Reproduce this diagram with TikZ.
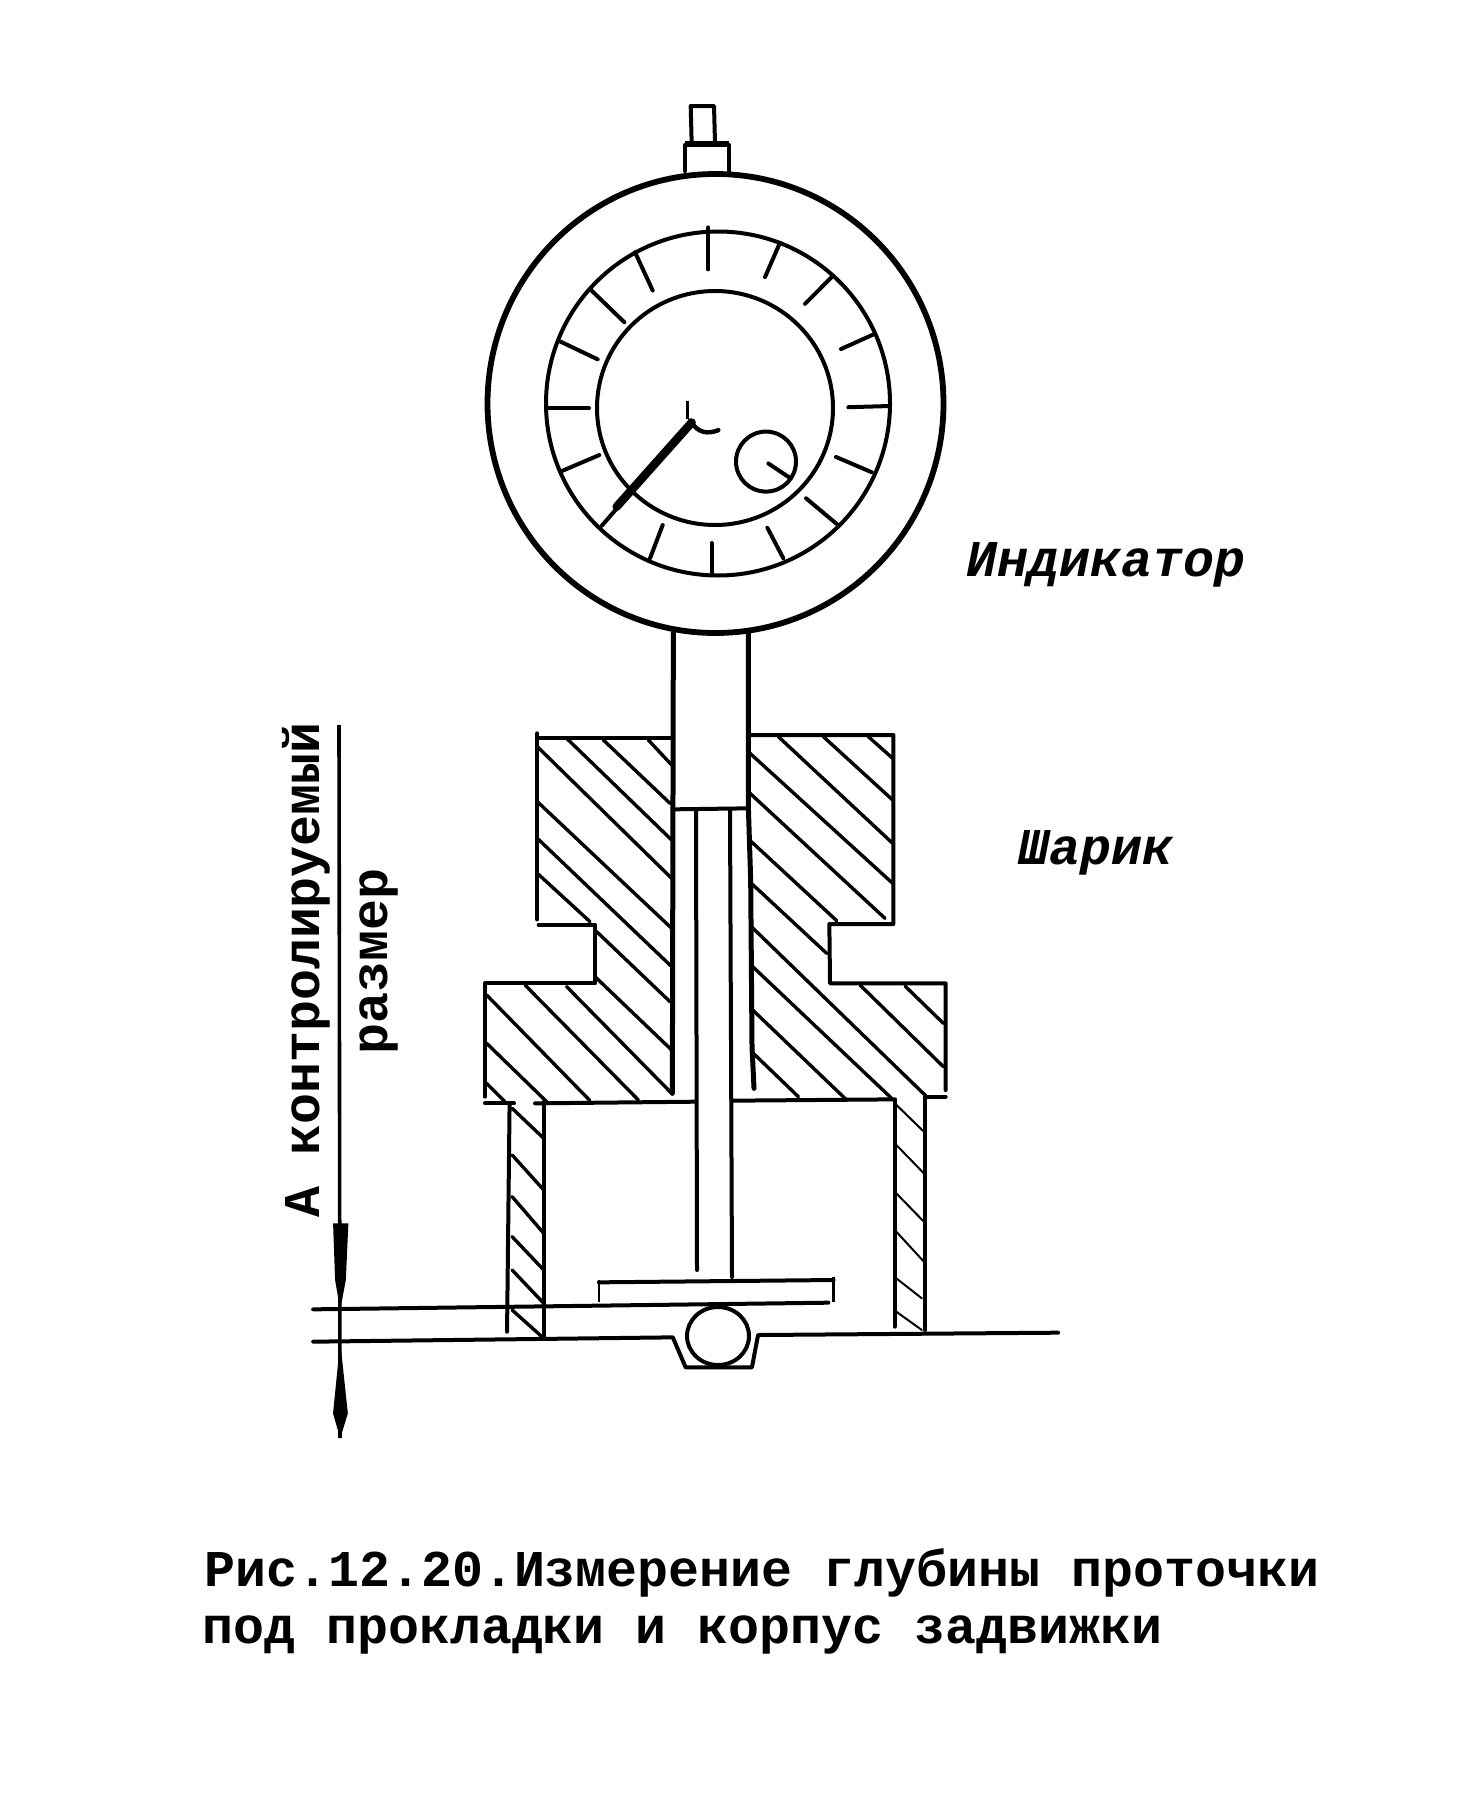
\documentclass[tikz,border=0pt]{standalone}
\usepackage{fontspec}
\setmonofont{Liberation Mono}
\tikzset{
  thickline/.style={line width=2.5pt,line cap=round,line join=round},
  midline/.style={line width=2pt,line cap=round,line join=round},
  hatchline/.style={line width=1.7pt,line cap=round},
  thinhatch/.style={line width=1pt,line cap=round},
  label/.style={inner sep=0pt,font=\fontsize{25.8pt}{30pt}\selectfont\ttfamily\bfseries},
  labelit/.style={inner sep=0pt,font=\fontsize{25.8pt}{30pt}\selectfont\ttfamily\bfseries\itshape},
}
\begin{document}
\begin{tikzpicture}[x=0.5pt,y=-0.5pt]
\fill[white] (0,0) rectangle (1458,1813);
\useasboundingbox (0,0) rectangle (1458,1813);
% dial
\draw[line width=2.9pt] (715.5,403.5) ellipse [x radius=228,y radius=229.5];
\draw[midline] (718,403.5) ellipse [x radius=172,y radius=172];
\draw[midline] (715,408) ellipse [x radius=118,y radius=117];
\draw[midline] (766,461.6) ellipse [x radius=30,y radius=30];
\begin{scope}[shift={(440,80)},x=0.16667pt,y=-0.19135pt]
 \draw[midline] (755,165)--(752,68)--(822,68)--(825,165);
 \draw[midline] (735,238)--(735,170)--(868,170)--(868,238);
 \draw[line width=1.8pt] (735,165)--(868,165);
 \foreach \a/\b/\c/\d in {805/385/805/495,1020/425/975/515,1175/515/1095/585,1300/665/1203/703,1345/852/1225/855,1295/1025/1188/985,1190/1160/1098/1093,1030/1250/982/1170,815/1290/815/1210,630/1250/668/1163,365/1022/478/980,325/858/447/858,360/683/473/730,452/548/553/633,585/450/638/550}
   \draw[midline] (\a,\b)--(\c,\d);
 \draw[midline] (485,1165)--(570,1080);
 \draw[line width=4.2pt,line cap=round] (530,1115)--(755,895);
 \draw[line width=1.6pt] (742,840)--(742,885);
 \draw[line width=2.2pt,line cap=round] (750,890) .. controls (775,925) and (805,925) .. (835,915);
 \draw[midline] (985,1002)--(1050,1040);
\end{scope}
% body, upper part
\begin{scope}[shift={(440,680)},x=0.16667pt,y=-0.16667pt]
 \draw[thickline] (700,-141)--(697,1240);
 \draw[thickline] (925,-141)--(925,380)--(932,600)--(936,1100)--(942,1225);
 \draw[midline] (700,388)--(925,385);
 \draw[midline] (292,160)--(292,718);
 \draw[midline] (292,173)--(695,173);
 \draw[midline] (296,734)--(465,734)--(465,910)--(135,910)--(135,1250);
 \draw[midline] (925,165)--(1360,165)--(1360,732)--(1168,732)--(1170,910)--(1517,910)--(1517,1230);
 \draw[midline] (135,1270)--(222,1270);
 \draw[midline] (285,1270)--(768,1265);
 \draw[midline] (875,1262)--(1365,1258);
 \draw[midline] (1455,1250)--(1517,1250);
 \foreach \a/\b/\c/\d in {380/175/695/480,490/180/690/370,625/180/695/255,292/200/695/595,292/365/695/745,292/475/695/860,292/580/450/725,470/755/690/965,465/890/695/1110,255/915/595/1260,380/920/695/1240,140/945/450/1262,140/1090/320/1265,140/1210/195/1265,1015/170/1358/490,1150/170/1358/360,1285/170/1358/235,930/220/1358/610,930/340/1335/715,934/485/1190/722,934/610/1160/820,934/740/1460/1250,938/860/1355/1255,938/990/1220/1260,940/1120/1075/1250,1260/915/1510/1160,1395/918/1510/1030}
   \draw[hatchline] (\a,\b)--(\c,\d);
\end{scope}
% tube
\draw[midline] (696,810)--(697,1270);
\draw[midline] (730,810)--(732,1277);
% lower part
\begin{scope}[shift={(280,1080)},x=0.2551pt,y=-0.16667pt]
 \draw[midline] (450,70)--(445,755);
 \draw[midline] (517,65)--(517,775);
 \draw[midline] (1205,60)--(1205,740);
 \draw[midline] (1265,50)--(1265,750);
 \foreach \a/\b/\c/\d in {455/85/517/175,455/225/517/330,455/350/517/460,455/470/517/570,455/570/517/670,455/690/517/775}
   \draw[hatchline] (\a,\b)--(\c,\d);
 \foreach \a/\b/\c/\d in {1205/70/1262/155,1208/195/1262/280,1208/340/1262/425,1208/455/1262/545,1208/595/1258/655,1208/695/1258/750}
   \draw[thinhatch] (\a,\b)--(\c,\d);
 \draw[midline] (625,607)--(1085,600);
 \draw[line width=1.1pt] (625,600)--(625,665);
 \draw[line width=1.1pt] (1085,590)--(1085,665);
 \draw[midline] (65,688)--(1075,668);
 \draw[midline] (65,785)--(770,772)--(795,862)--(925,862)--(937,765)--(1525,758);
 \fill (104,430)--(134,430)--(129,600)--(118,690)--(108,600)--cycle;
 \fill (118,785)--(104,1000)--(118,1075)--(133,1000)--cycle;
\end{scope}
\draw[midline] (718,1336) ellipse [x radius=31,y radius=29];
\draw[line width=1.8pt] (339,725)--(340,1438);
% texts
\node[labelit,anchor=base west] (ind) at (966,576) {Индикатор};
\node[labelit,anchor=base west] (shar) at (1018,864) {Шарик};
\node[label,anchor=base west,rotate=90] (kontr) at (319,1218) {А контролируемый};
\node[label,anchor=base west,rotate=90] (razm) at (387,1055) {размер};
\node[label,anchor=base west] (cap1) at (204,1586) {Рис.12.20.Измерение глубины проточки};
\node[label,anchor=base west] (cap2) at (202,1643) {под прокладки и корпус задвижки};
\end{tikzpicture}
\end{document}
